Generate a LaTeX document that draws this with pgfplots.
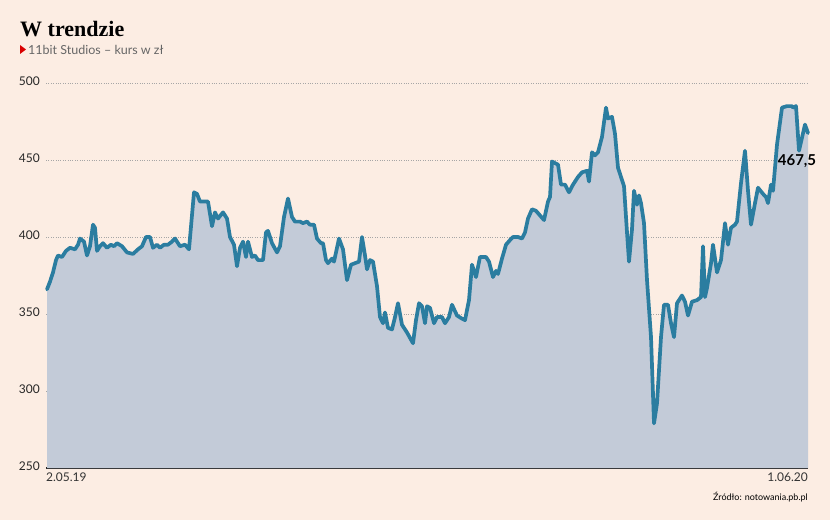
\documentclass[border=0pt]{standalone}
\usepackage{pgfplots}
\pgfplotsset{compat=1.18}
\usepackage{pgfplotstable}
\usepackage{fontspec}
\setmainfont{Lato}
\newfontfamily\titlefont{Liberation Serif}

\definecolor{bgc}{HTML}{FCEDE3}
\definecolor{areac}{HTML}{C3CBD8}
\definecolor{linec}{HTML}{2B7DA0}
\definecolor{subc}{HTML}{666666}

\pgfplotstableread{
x y
47 366
50 371
53 377
56 385
58 388
62 387
66 391
70 393
75 392
78 395
80 399
84 397
87 388
90 394
93 408
95 406
97 391
100 394
103 396
107 393
111 395
114 394
117 396
122 394
127 390
133 389
138 392
142 394
146 400
150 400
153 393
157 395
160 393
164 395
168 395
172 397
175 399
180 394
185 395
189 392
194 429
197 428
200 423
204 423
208 423
212 407
215 416
218 412
223 416
227 412
230 400
234 395
237 381
240 393
243 397
246 387
248 397
252 387
255 388
258 385
263 385
266 403
268 404
272 396
277 390
280 394
284 413
288 425
292 413
295 410
300 410
303 409
307 410
310 408
314 408
317 399
321 396
323 396
326 385
328 383
332 386
334 384
339 399
343 392
347 372
351 382
355 383
359 384
362 400
365 388
367 379
370 385
373 384
377 368
380 348
383 344
385 351
388 341
392 340
395 348
398 357
402 343
407 338
413 331
416 346
419 357
422 355
425 344
427 355
430 354
434 344
437 348
442 348
445 344
449 348
452 356
457 349
462 347
465 346
469 359
472 382
476 374
480 387
486 387
489 384
493 374
496 378
498 376
502 386
506 395
510 398
513 400
518 400
522 399
525 403
528 412
532 418
536 417
540 414
544 411
548 423
550 426
552 449
555 448
558 447
561 434
565 434
569 429
573 434
578 439
582 442
587 443
589 436
592 455
595 453
598 455
602 465
606 484
608 477
612 478
615 467
618 445
622 437
624 433
627 403
629 384
632 405
634 430
637 421
639 427
641 422
644 409
647 372
651 335
654 279
657 292
661 335
664 356
668 356
671 344
674 335
677 357
682 362
685 358
688 349
692 358
697 359
701 361
703 394
705 361
707 367
711 383
713 395
717 377
721 385
725 409
728 395
731 406
735 408
737 410
741 435
745 456
748 430
751 408
755 422
758 432
763 428
766 426
768 422
771 434
773 430
777 460
782 484
787 485
792 485
793 484
796 485
799 456
805 473
808 467.5
}\kurs

\begin{document}
\begin{tikzpicture}[x=1pt,y=1pt]
\fill[bgc] (0,0) rectangle (830,520);
\useasboundingbox (0,0) rectangle (830,520);

% title block
\node[anchor=base west, inner sep=0pt] at (20,483) {\titlefont\fontsize{22}{24}\selectfont\bfseries W trendzie};
\fill[red!85!black] (20,475) -- (26,470.5) -- (20,466) -- cycle;
\node[anchor=base west, inner sep=0pt, text=subc] at (28,465) {\fontsize{12.5}{14}\selectfont 11bit Studios -- kurs w zł};

\begin{axis}[
    at={(46pt,52pt)}, anchor=south west,
    scale only axis, width=762pt, height=385pt,
    xmin=46, xmax=808, ymin=250, ymax=500,
    axis x line=bottom, axis y line=left,
    x axis line style={-, black!85, line width=1.3pt},
    y axis line style={draw=none},
    xtick=\empty,
    ytick={250,300,...,500},
    ymajorgrids,
    major grid style={dotted, black!35, line width=0.5pt},
    major tick length=0pt,
    yticklabel style={anchor=base east, inner sep=0pt, xshift=-6pt, yshift=-2pt,
        font=\fontsize{12}{14}\selectfont, text=black!85},
    /pgf/number format/assume math mode=true,
    clip=false,
]
\addplot[fill=areac, draw=none] table[x=x,y=y] {\kurs} \closedcycle;
\addplot[linec, line width=3.7pt, line join=round, line cap=round] table[x=x,y=y] {\kurs};

\node[anchor=center, font=\fontsize{15}{16}\selectfont\bfseries] at (axis cs:797,449) {467,5};
\node[anchor=north west, inner sep=0pt, yshift=-5pt, font=\fontsize{12}{14}\selectfont, text=black!80] at (rel axis cs:0,0) {2.05.19};
\node[anchor=north east, inner sep=0pt, yshift=-5pt, font=\fontsize{12}{14}\selectfont, text=black!80] at (rel axis cs:1,0) {1.06.20};
\end{axis}

\node[anchor=base east, inner sep=0pt] at (808,20) {\fontsize{9}{10}\selectfont Źródło: notowania.pb.pl};
\end{tikzpicture}
\end{document}
